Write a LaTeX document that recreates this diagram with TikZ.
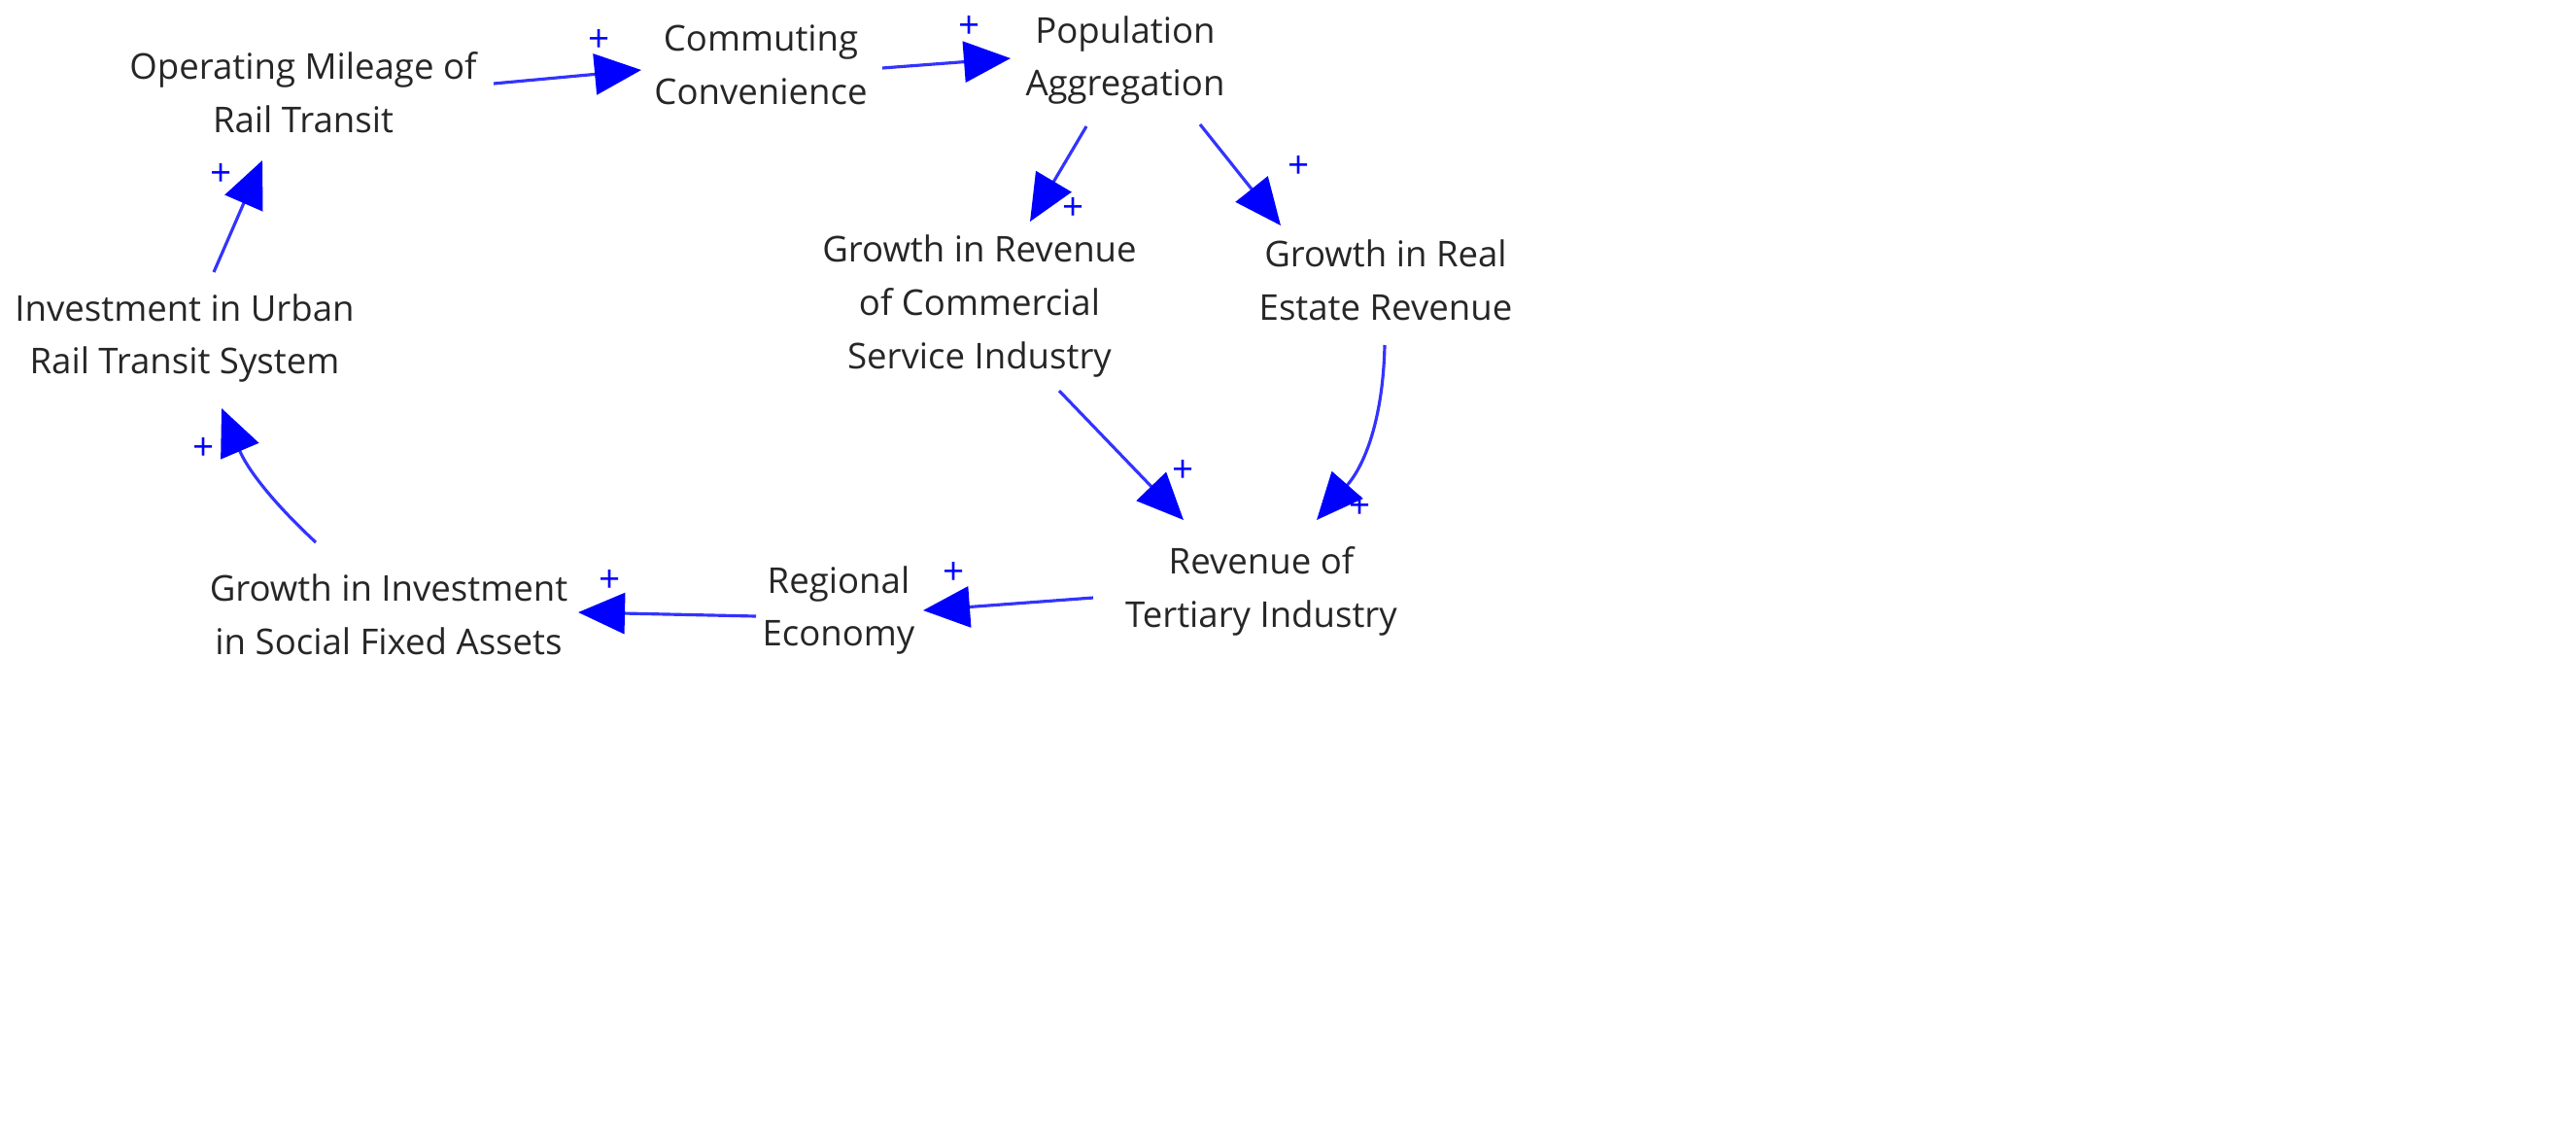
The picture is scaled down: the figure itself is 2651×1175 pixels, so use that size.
\documentclass[tikz,border=0pt]{standalone}
\usepackage{fontspec}
\setmainfont{Open Sans}
\usetikzlibrary{arrows.meta}
\begin{document}
\begin{tikzpicture}[x=0.01cm,y=-0.01cm,
  lbl/.style={align=center,font=\fontsize{10.4}{15.6}\selectfont,text=black!85},
  pl/.style={text=blue,font=\fontsize{11}{11}\selectfont},
  lnk/.style={draw=blue!80,line width=0.9pt,-{Triangle[length=0.48cm,width=0.42cm,color=blue]}}]
\useasboundingbox (0,0) rectangle (2651,1175);
\node[lbl] (om) at (312,95) {Operating Mileage of\\Rail Transit};
\node[lbl] (cc) at (783,67) {Commuting\\Convenience};
\node[lbl] (pa) at (1158,62) {Population\\Aggregation};
\node[lbl] (gc) at (1008,315) {Growth in Revenue\\of Commercial\\Service Industry};
\node[lbl] (gr) at (1426,288) {Growth in Real\\Estate Revenue};
\node[lbl] (iu) at (190,348) {Investment in Urban\\Rail Transit System};
\node[lbl] (rt) at (1298,608) {Revenue of\\Tertiary Industry};
\node[lbl] (re) at (863,628) {Regional\\Economy};
\node[lbl] (gi) at (400,632) {Growth in Investment\\in Social Fixed Assets};
\coordinate (a1) at (508,86); \coordinate (b1) at (660,72);
\coordinate (a2) at (908,70); \coordinate (b2) at (1040,60);
\coordinate (a3) at (1118,130); \coordinate (b3) at (1060,228);
\coordinate (a4) at (1235,128); \coordinate (b4) at (1318,232);
\coordinate (a5) at (1425,355); \coordinate (b5) at (1355,535);
\coordinate (a6) at (1090,402); \coordinate (b6) at (1218,535);
\coordinate (a7) at (1125,615); \coordinate (b7) at (950,628);
\coordinate (a8) at (778,634); \coordinate (b8) at (595,630);
\coordinate (a9) at (325,558); \coordinate (b9) at (228,420);
\coordinate (a10) at (220,280); \coordinate (b10) at (270,165);
\draw[lnk] (a1) -- (b1);
\draw[lnk] (a2) -- (b2);
\draw[lnk] (a3) -- (b3);
\draw[lnk] (a4) -- (b4);
\draw[lnk] (a5) to[bend left=20] (b5);
\draw[lnk] (a6) -- (b6);
\draw[lnk] (a7) -- (b7);
\draw[lnk] (a8) -- (b8);
\draw[lnk] (a9) to[bend left=12] (b9);
\draw[lnk] (a10) -- (b10);
\node[pl] (p1) at (617,42) {+};
\node[pl] (p2) at (998,28) {+};
\node[pl] (p3) at (1105,215) {+};
\node[pl] (p4) at (1337,172) {+};
\node[pl] (p5) at (1400,522) {+};
\node[pl] (p6) at (1218,485) {+};
\node[pl] (p7) at (982,590) {+};
\node[pl] (p8) at (628,598) {+};
\node[pl] (p9) at (210,462) {+};
\node[pl] (p10) at (228,180) {+};
\end{tikzpicture}
\end{document}
